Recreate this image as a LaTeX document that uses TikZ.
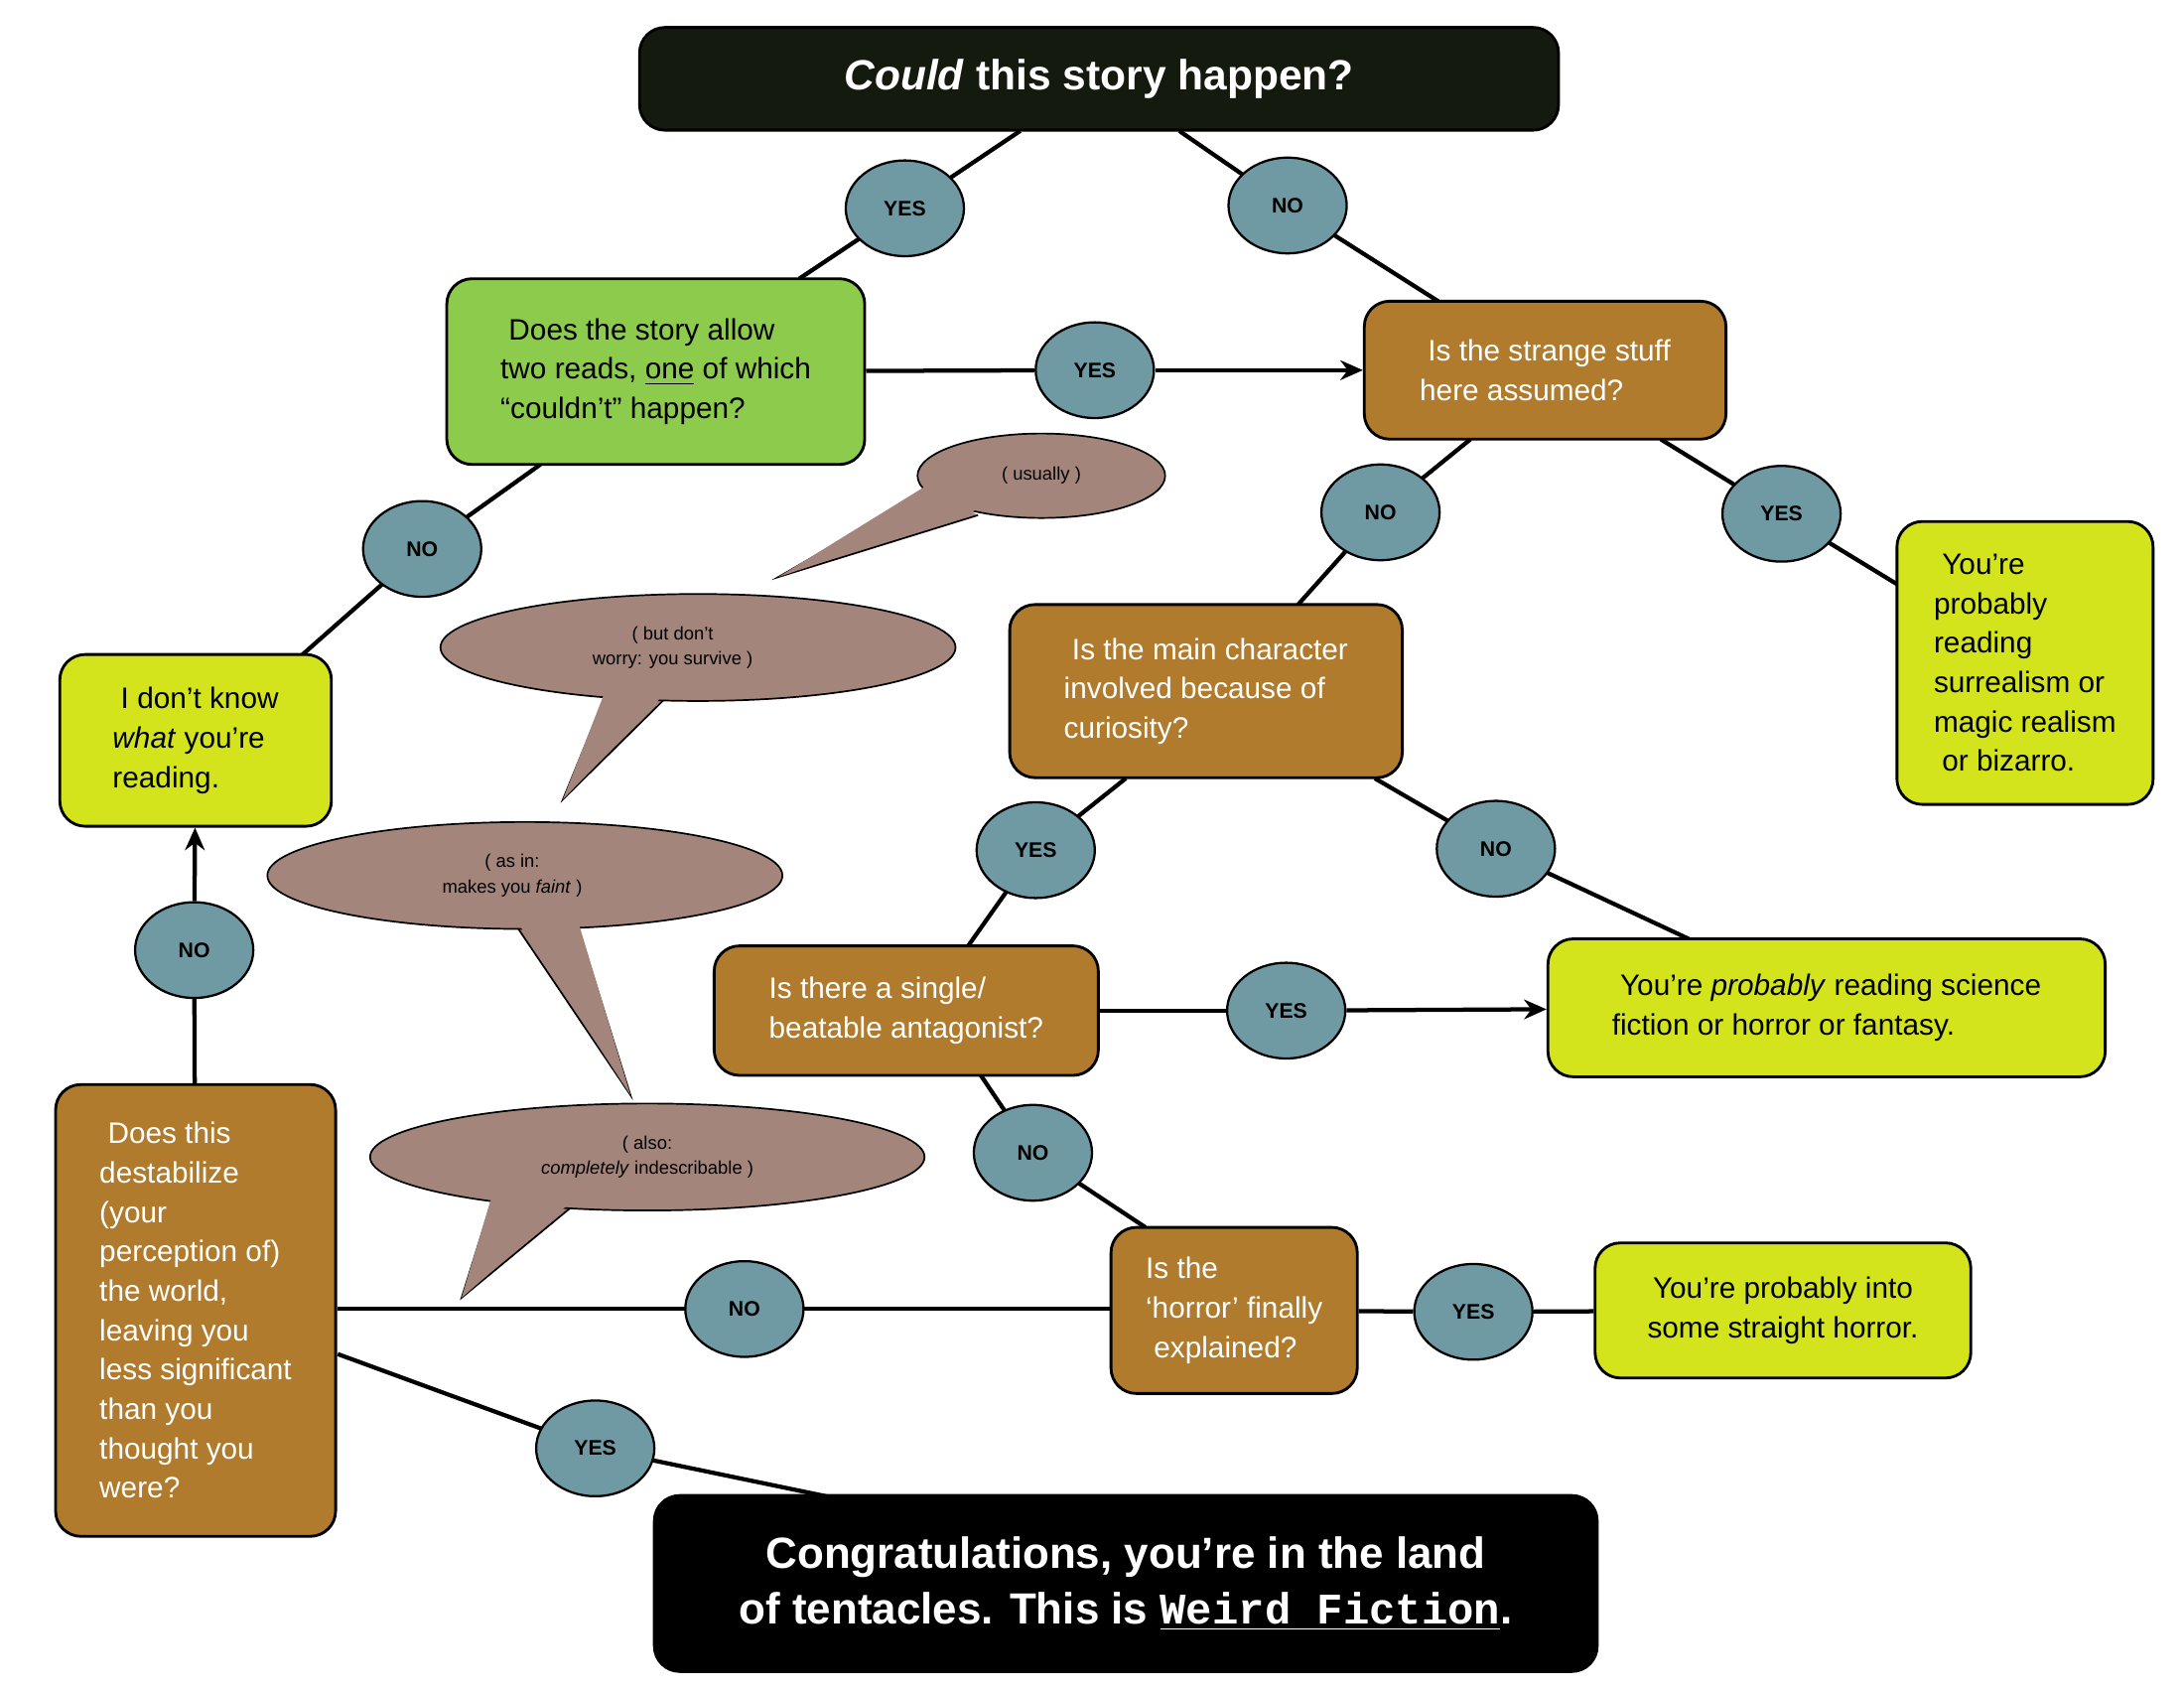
\documentclass[tikz,border=0pt]{standalone}
\usepackage{fontspec}
\setmainfont{Liberation Sans}
\newfontfamily\tw{Liberation Mono}
\usetikzlibrary{shapes.geometric,arrows.meta,calc,backgrounds}
\definecolor{topbg}{HTML}{141A0E}
\definecolor{grn}{HTML}{8CCB4C}
\definecolor{brn}{HTML}{B07B2C}
\definecolor{ylw}{HTML}{D3E41C}
\definecolor{teal}{HTML}{6F9AA3}
\definecolor{bub}{HTML}{A3857B}
\begin{document}
\begin{tikzpicture}[x=0.5pt,y=-0.5pt,
 box/.style={draw=black,line width=1pt,rounded corners=9pt,inner sep=0pt,font=\fontsize{10.5}{14}\selectfont,align=left},
 gbox/.style={box,fill=grn},
 bbox/.style={box,fill=brn,text=white},
 ybox/.style={box,fill=ylw},
 yn/.style={ellipse,draw=black,line width=0.8pt,fill=teal,minimum width=42pt,minimum height=34pt,inner sep=0pt,font=\bfseries\fontsize{7.5}{9}\selectfont},
 ln/.style={line width=1.5pt},
 ar/.style={ln,-{Stealth[length=8pt,width=7pt]}},
 bt/.style={font=\fontsize{6.5}{9}\selectfont,align=center}]
\useasboundingbox (0,0) rectangle (1552,1200);
% boxes
\node[box,fill=topbg,text=white,minimum width=326.5pt,minimum height=36.5pt,font=\fontsize{15}{18}\selectfont\bfseries,align=center] (top) at (781,56) {\textit{Could} this story happen?};
\node[gbox,minimum width=148.5pt,minimum height=66pt] (q1) at (466,264) {\ Does the story allow\\two reads, \underline{one} of which\\\textquotedblleft couldn't\textquotedblright\ happen?};
\node[bbox,minimum width=128.5pt,minimum height=49pt] (q2) at (1098,263) {\ Is the strange stuff\\here assumed?};
\node[ybox,minimum width=91pt,minimum height=100.5pt] (sur) at (1439,471) {\ You're\\probably\\reading\\surrealism or\\magic realism\\\ or bizarro.};
\node[bbox,minimum width=139.5pt,minimum height=61.5pt] (q3) at (857,491) {\ Is the main character\\involved because of\\curiosity?};
\node[bbox,minimum width=136.5pt,minimum height=46pt] (q4) at (644,718) {Is there a single/\\beatable antagonist?};
\node[ybox,minimum width=198pt,minimum height=49pt] (sf) at (1298,716) {\ You're \textit{probably} reading science\\fiction or horror or fantasy.};
\node[bbox,minimum width=87.5pt,minimum height=59pt] (q5) at (877,931) {Is the\\`horror' finally\\\ explained?};
\node[ybox,minimum width=133.5pt,minimum height=48pt,align=center] (hor) at (1267,931) {You're probably into\\some straight horror.};
\node[bbox,minimum width=99.5pt,minimum height=160.5pt] (q6) at (139,931) {\ Does this\\destabilize\\(your\\perception of)\\the world,\\leaving you\\less significant\\than you\\thought you\\were?};
\node[ybox,minimum width=96.5pt,minimum height=61pt] (idk) at (139,526) {\ I don't know\\\textit{what} you're\\reading.};
\node[box,fill=black,text=white,minimum width=335pt,minimum height=62.5pt,font=\fontsize{15.5}{20}\selectfont\bfseries,align=center] (fin) at (800,1125) {Congratulations, you're in the land\\of tentacles. This is \underline{{\tw Weird Fiction}}.};
% bubbles
\tikzset{bubble/.style={fill=bub,draw=black,line width=0.6pt}}
\foreach \cx/\cy/\rx/\ry/\ax/\ay/\bx/\by/\tx/\ty in {740/338/88/30/660/348/695/366/553/410, 496/460/183/38/432/490/475/494/400/568, 373/622/183/38/365/655/410/656/448/778, 460/822/197/38/350/852/408/856/328/922}{
 \draw[bubble] (\ax,\ay) -- (\tx,\ty) -- (\bx,\by);
 \draw[bubble] (\cx,\cy) ellipse [x radius=\rx,y radius=\ry];
 \fill[bub] ($(\ax,\ay)+(0,-4)$) -- (\tx,\ty) -- ($(\bx,\by)+(0,-4)$) -- cycle;
}
\node[bt] (b1) at (740,338) {( usually )};
\node[bt] (b2) at (478,460) {( but don't\\worry: you survive )};
\node[bt] (b3) at (364,622) {( as in:\\makes you \textit{faint} )};
\node[bt] (b4) at (460,822) {( also:\\\textit{completely} indescribable )};
% labels
\node[yn] (y1) at (643,148) {YES};
\node[yn] (n1) at (915,146) {NO};
\node[yn] (y2) at (778,263) {YES};
\node[yn] (n2) at (981,364) {NO};
\node[yn] (y3) at (1266,365) {YES};
\node[yn] (y4) at (736,604) {YES};
\node[yn] (n4) at (1063,603) {NO};
\node[yn] (y5) at (914,718) {YES};
\node[yn] (n5) at (734,819) {NO};
\node[yn] (y6) at (1047,932) {YES};
\node[yn] (n6) at (529,930) {NO};
\node[yn] (n7) at (138,675) {NO};
\node[yn] (n8) at (300,390) {NO};
\node[yn] (y7) at (423,1029) {YES};
% connectors
\coordinate (c1) at (725,93); \coordinate (c2) at (568,198);
\coordinate (c3) at (838,93); \coordinate (c4) at (1022,214);
\coordinate (c5) at (1045,312); \coordinate (c6) at (922,430);
\coordinate (c7) at (1180,312); \coordinate (c8) at (1348,415);
\coordinate (c9) at (800,553); \coordinate (c10) at (688,672);
\coordinate (c11) at (977,553); \coordinate (c12) at (1200,667);
\coordinate (c13) at (697,764); \coordinate (c14) at (814,872);
\coordinate (c15) at (215,465); \coordinate (c16) at (384,330);
\coordinate (c17) at (240,962); \coordinate (c18) at (587,1063);
\begin{scope}[on background layer]
\draw[ln] (c1) -- (y1.center) -- (c2);
\draw[ln] (c3) -- (n1.center) -- (c4);
\draw[ln] (c5) -- (n2.center) -- (c6);
\draw[ln] (c7) -- (y3.center) -- (c8);
\draw[ln] (c9) -- (y4.center) -- (c10);
\draw[ln] (c11) -- (n4.center) -- (c12);
\draw[ln] (c13) -- (n5.center) -- (c14);
\draw[ln] (q5) -- (y6) -- (hor);
\draw[ln] (q6.east|-n6) -- (q5.west|-n6);
\draw[ln] (q6) -- (n7);
\draw[ln] (c15) -- (n8.center) -- (c16);
\draw[ln] (c17) -- (y7.center) -- (c18);
\draw[ln] (q1) -- (y2);
\draw[ln] (q4) -- (y5);
\end{scope}
\draw[ar] (y2) -- (q2);
\draw[ar] (y5) -- (sf);
\draw[ar] (n7) -- (idk);
\end{tikzpicture}
\end{document}
